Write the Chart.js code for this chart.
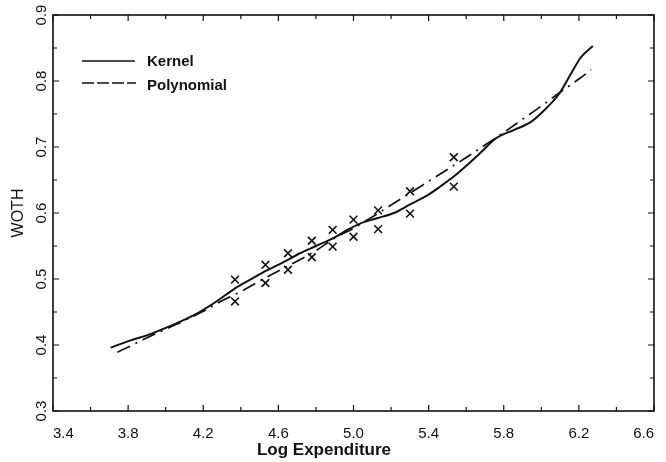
<!DOCTYPE html>
<html>
<head>
<meta charset="utf-8">
<script src="https://cdn.jsdelivr.net/npm/chart.js@4.4.1/dist/chart.umd.min.js"></script>
<style>
  body { margin: 0; background: #fff; }
  #wrap { width: 666px; height: 462px; }
</style>
</head>
<body>
<div id="wrap"><canvas id="chart" width="666" height="462"></canvas></div>
<script>
// kernel regression curve (solid)
const kernelX = [3.707, 3.814, 3.903, 4.010, 4.098, 4.187, 4.276, 4.360, 4.450, 4.538, 4.630, 4.715, 4.800, 4.893, 4.965, 5.035, 5.124, 5.215, 5.301, 5.395, 5.466, 5.537, 5.610, 5.679, 5.758, 5.856, 5.945, 6.017, 6.096, 6.158, 6.211, 6.274];
const kernelY = [0.396, 0.407, 0.415, 0.427, 0.438, 0.451, 0.467, 0.484, 0.499, 0.513, 0.526, 0.539, 0.550, 0.562, 0.574, 0.584, 0.592, 0.600, 0.613, 0.627, 0.641, 0.656, 0.674, 0.692, 0.713, 0.726, 0.738, 0.756, 0.781, 0.811, 0.836, 0.853];

// polynomial fit (dashed)
const polyX = [3.743, 3.823, 3.900, 4.000, 4.100, 4.200, 4.300, 4.400, 4.500, 4.600, 4.700, 4.800, 4.900, 5.000, 5.100, 5.200, 5.300, 5.400, 5.500, 5.600, 5.700, 5.800, 5.900, 6.000, 6.100, 6.200, 6.265];
const polyY = [0.389, 0.400, 0.411, 0.424, 0.437, 0.451, 0.467, 0.481, 0.497, 0.512, 0.527, 0.543, 0.562, 0.577, 0.594, 0.612, 0.630, 0.648, 0.666, 0.684, 0.703, 0.722, 0.742, 0.762, 0.783, 0.803, 0.817];

// the x markers
const obsX = [4.369, 4.369, 4.531, 4.531, 4.651, 4.651, 4.778, 4.778, 4.889, 4.889, 5.000, 5.000, 5.131, 5.131, 5.301, 5.301, 5.534, 5.534];
const obsY = [0.499, 0.466, 0.5215, 0.494, 0.539, 0.514, 0.558, 0.533, 0.5745, 0.549, 0.590, 0.564, 0.604, 0.5755, 0.633, 0.599, 0.6845, 0.640];

const yTicks = [0.3, 0.4, 0.5, 0.6, 0.7, 0.8, 0.9];
const legendNames = ['Kernel', 'Polynomial'];

const FONT = "'Liberation Sans', Arial, sans-serif";
const INK = '#111';
const polyDash = [14, 6, 2, 6];

function toPoints(xs, ys) {
  return xs.map((x, i) => ({ x: x, y: ys[i] }));
}

// frame, inward ticks, rotated y labels, x title and legend
const decor = {
  id: 'decor',
  afterDraw(chart) {
    const ctx = chart.ctx;
    const a = chart.chartArea;
    const xs = chart.scales.x, ys = chart.scales.y;
    ctx.save();
    ctx.strokeStyle = INK;
    ctx.lineWidth = 1.6;
    ctx.strokeRect(a.left, a.top, a.right - a.left, a.bottom - a.top);

    ctx.lineWidth = 1.2;
    ctx.beginPath();
    for (let i = 0; i <= 16; i++) {
      const px = xs.getPixelForValue(3.4 + i * 0.2);
      const len = i % 2 === 0 ? 6 : 4;
      ctx.moveTo(px, a.bottom); ctx.lineTo(px, a.bottom - len);
      ctx.moveTo(px, a.top); ctx.lineTo(px, a.top + len);
    }
    for (let i = 0; i <= 12; i++) {
      const py = ys.getPixelForValue(0.3 + i * 0.05);
      const len = i % 2 === 0 ? 6 : 4;
      ctx.moveTo(a.left, py); ctx.lineTo(a.left + len, py);
      ctx.moveTo(a.right, py); ctx.lineTo(a.right - len, py);
    }
    ctx.stroke();

    // y tick labels read bottom to top
    ctx.fillStyle = INK;
    ctx.font = '15px ' + FONT;
    ctx.textAlign = 'center';
    ctx.textBaseline = 'middle';
    yTicks.forEach(v => {
      const py = ys.getPixelForValue(v);
      ctx.save();
      ctx.translate(41.5, py);
      ctx.rotate(-Math.PI / 2);
      ctx.fillText(v.toFixed(1), 0, 0);
      ctx.restore();
    });

    // x axis title
    ctx.font = 'bold 17px ' + FONT;
    ctx.fillText('Log Expenditure', 324, 450);

    // legend
    ctx.lineWidth = 1.7;
    ctx.beginPath();
    ctx.moveTo(82, 61); ctx.lineTo(135, 61);
    ctx.stroke();
    ctx.setLineDash([12, 3]);
    ctx.beginPath();
    ctx.moveTo(82, 83); ctx.lineTo(136, 83);
    ctx.stroke();
    ctx.setLineDash([]);
    ctx.font = 'bold 15px ' + FONT;
    ctx.textAlign = 'left';
    ctx.fillText(legendNames[0], 147, 62);
    ctx.fillText(legendNames[1], 147, 86);
    ctx.restore();
  }
};

new Chart(document.getElementById('chart'), {
  type: 'scatter',
  data: {
    datasets: [
      {
        label: legendNames[0],
        data: toPoints(kernelX, kernelY),
        showLine: true,
        borderColor: INK,
        borderWidth: 2,
        pointRadius: 0,
        cubicInterpolationMode: 'monotone'
      },
      {
        label: legendNames[1],
        data: toPoints(polyX, polyY),
        showLine: true,
        borderColor: INK,
        borderWidth: 1.7,
        borderDash: polyDash,
        pointRadius: 0,
        cubicInterpolationMode: 'monotone'
      },
      {
        label: 'obs',
        data: toPoints(obsX, obsY),
        showLine: false,
        pointStyle: 'crossRot',
        pointRadius: 5.5,
        borderColor: INK,
        borderWidth: 1.6
      }
    ]
  },
  options: {
    responsive: false,
    animation: false,
    layout: { padding: { top: 15, right: 12, left: 0, bottom: 0 } },
    plugins: { legend: { display: false }, tooltip: { enabled: false } },
    scales: {
      x: {
        type: 'linear',
        min: 3.4,
        max: 6.6,
        grid: { display: false },
        border: { display: false },
        afterFit(scale) { scale.height = 51; },
        ticks: {
          stepSize: 0.2,
          autoSkip: false,
          maxRotation: 0,
          align: 'inner',
          padding: 6,
          color: INK,
          font: { family: FONT, size: 15 },
          callback(v) {
            const k = (v - 3.4) / 0.4;
            return Math.abs(k - Math.round(k)) < 1e-6 ? Number(v).toFixed(1) : '';
          }
        }
      },
      y: {
        type: 'linear',
        min: 0.3,
        max: 0.9,
        grid: { display: false },
        border: { display: false },
        afterFit(scale) { scale.width = 53; },
        ticks: { display: false, stepSize: 0.1 },
        title: {
          display: true,
          text: 'WOTH',
          color: INK,
          font: { family: FONT, size: 16 },
          padding: { top: 9, bottom: 0 }
        }
      }
    }
  },
  plugins: [decor]
});
</script>
</body>
</html>
